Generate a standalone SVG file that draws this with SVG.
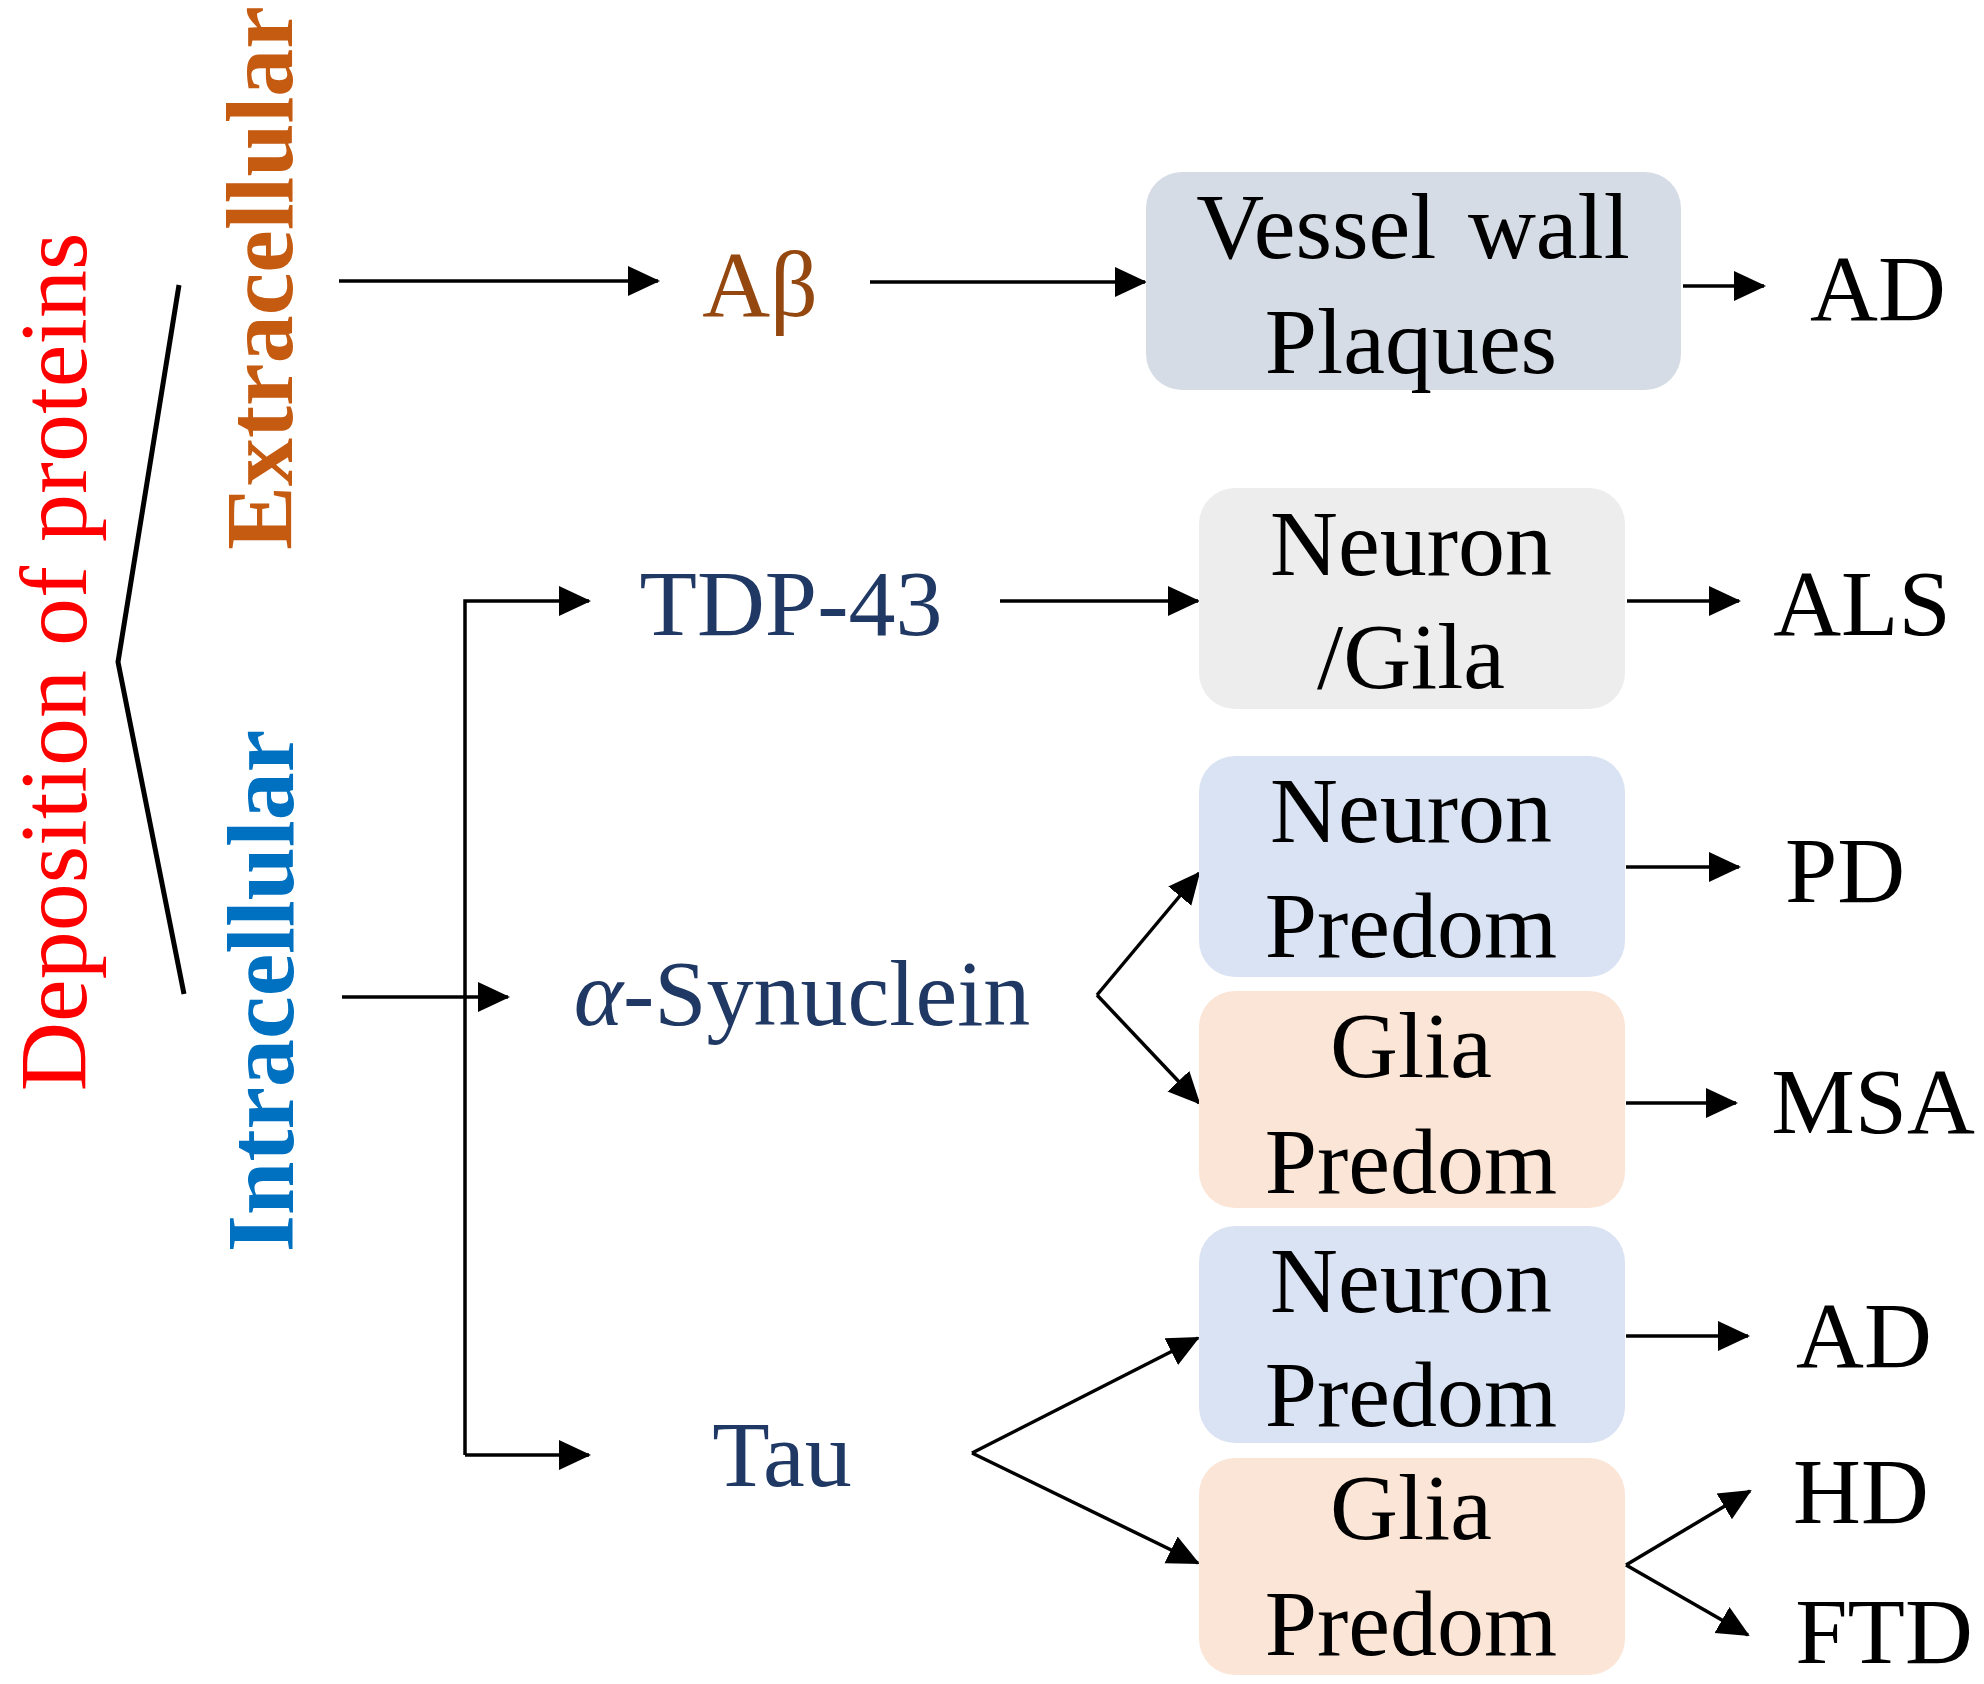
<svg xmlns="http://www.w3.org/2000/svg" width="1984" height="1684" viewBox="0 0 1984 1684">
<defs>
<style>
.t{font-family:"Liberation Serif","Times New Roman",serif;font-size:94px;text-anchor:middle;fill:#000}
.navy{fill:#1F3864}
.box{stroke:none}
.c{fill:none;stroke:#000;stroke-width:3.5}
</style>
<marker id="ah" markerUnits="userSpaceOnUse" markerWidth="32" markerHeight="32" refX="30" refY="15" orient="auto" viewBox="0 0 32 30">
<path d="M0,0 L32,15 L0,30 z" fill="#000"/>
</marker>
</defs>
<rect width="1984" height="1684" fill="#fff"/>

<g id="labels-left">
<text class="t" style="font-size:96px;fill:#FF0000" transform="translate(86,662) rotate(-90)">Deposition of proteins</text>
<text class="t" style="font-size:96px;font-weight:bold;fill:#C55A11" transform="translate(292,278) rotate(-90)">Extracellular</text>
<text class="t" style="font-size:96px;font-weight:bold;fill:#0070C0" transform="translate(293,991) rotate(-90)">Intracellular</text>
<polyline points="179,285 118,662 184,994" fill="none" stroke="#000" stroke-width="5"/>
</g>

<g id="connectors">
<path class="c" d="M339,281 H658" marker-end="url(#ah)"/>
<path class="c" d="M870,282 H1145" marker-end="url(#ah)"/>
<path class="c" d="M1683,286 H1764" marker-end="url(#ah)"/>
<path class="c" d="M1000,601 H1198" marker-end="url(#ah)"/>
<path class="c" d="M1627,601 H1739" marker-end="url(#ah)"/>
<path class="c" d="M342,997 H508" marker-end="url(#ah)"/>
<path class="c" d="M465,1455 V601 H589" marker-end="url(#ah)"/>
<path class="c" d="M465,1455 H589" marker-end="url(#ah)"/>
<path class="c" d="M1097,995 L1199,873" marker-end="url(#ah)"/>
<path class="c" d="M1097,995 L1199,1103" marker-end="url(#ah)"/>
<path class="c" d="M1626,867 H1739" marker-end="url(#ah)"/>
<path class="c" d="M1626,1103 H1736" marker-end="url(#ah)"/>
<path class="c" d="M972,1453 L1198,1338" marker-end="url(#ah)"/>
<path class="c" d="M972,1453 L1198,1563" marker-end="url(#ah)"/>
<path class="c" d="M1626,1336 H1748" marker-end="url(#ah)"/>
<path class="c" d="M1626,1565 L1750,1491" marker-end="url(#ah)"/>
<path class="c" d="M1626,1565 L1748,1635" marker-end="url(#ah)"/>
</g>

<g id="abeta"><text class="t" x="760" y="316" style="fill:#94470F">Aβ</text></g>
<g id="tdp43"><text class="t navy" x="791" y="635">TDP-43</text></g>
<g id="asyn"><text class="t navy" x="802" y="1025"><tspan font-style="italic">α</tspan>-Synuclein</text></g>
<g id="tau"><text class="t navy" x="782" y="1486">Tau</text></g>

<g id="box-vessel">
<rect class="box" x="1146" y="172" width="535" height="218" rx="36" fill="#D6DCE5"/>
<text class="t" x="1413" y="258" word-spacing="8">Vessel wall</text>
<text class="t" x="1411" y="373">Plaques</text>
</g>
<g id="box-neuron-glia">
<rect class="box" x="1199" y="488" width="426" height="221" rx="36" fill="#EDEDED"/>
<text class="t" x="1411" y="575">Neuron</text>
<text class="t" x="1411" y="688">/Gila</text>
</g>
<g id="box-neuron-pd">
<rect class="box" x="1199" y="756" width="426" height="221" rx="36" fill="#DAE3F3"/>
<text class="t" x="1411" y="842">Neuron</text>
<text class="t" x="1411" y="957">Predom</text>
</g>
<g id="box-glia-msa">
<rect class="box" x="1199" y="991" width="426" height="217" rx="36" fill="#FBE5D6"/>
<text class="t" x="1411" y="1077">Glia</text>
<text class="t" x="1411" y="1193">Predom</text>
</g>
<g id="box-neuron-ad">
<rect class="box" x="1199" y="1226" width="426" height="217" rx="36" fill="#DAE3F3"/>
<text class="t" x="1411" y="1312">Neuron</text>
<text class="t" x="1411" y="1426">Predom</text>
</g>
<g id="box-glia-hd">
<rect class="box" x="1199" y="1458" width="426" height="217" rx="36" fill="#FBE5D6"/>
<text class="t" x="1411" y="1539">Glia</text>
<text class="t" x="1411" y="1655">Predom</text>
</g>

<g id="ad1"><text class="t" x="1878" y="320">AD</text></g>
<g id="als"><text class="t" x="1862" y="635">ALS</text></g>
<g id="pd"><text class="t" x="1845" y="902">PD</text></g>
<g id="msa"><text class="t" x="1873" y="1133">MSA</text></g>
<g id="ad2"><text class="t" x="1864" y="1367">AD</text></g>
<g id="hd"><text class="t" x="1861" y="1523">HD</text></g>
<g id="ftd"><text class="t" x="1884" y="1663">FTD</text></g>
</svg>
